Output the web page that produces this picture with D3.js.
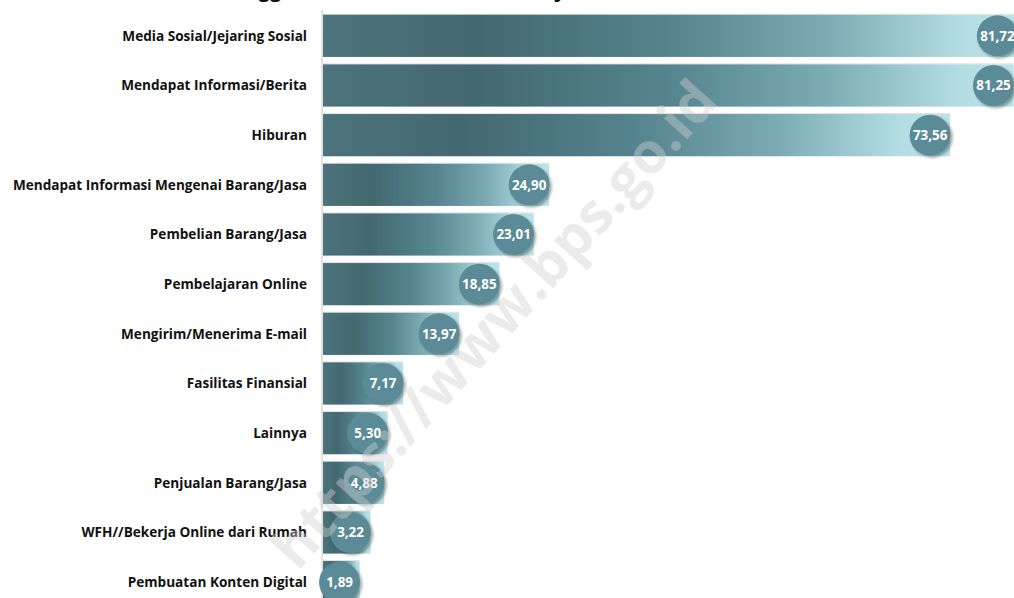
<!DOCTYPE html>
<html>
<head>
<meta charset="utf-8">
<script src="https://cdn.jsdelivr.net/npm/d3@7"></script>
<style>
  body { margin: 0; background: #fff; }
  svg { display: block; }
</style>
</head>
<body>
<div id="chart"></div>
<script>
const categories = [
  "Media Sosial/Jejaring Sosial",
  "Mendapat Informasi/Berita",
  "Hiburan",
  "Mendapat Informasi Mengenai Barang/Jasa",
  "Pembelian Barang/Jasa",
  "Pembelajaran Online",
  "Mengirim/Menerima E-mail",
  "Fasilitas Finansial",
  "Lainnya",
  "Penjualan Barang/Jasa",
  "WFH//Bekerja Online dari Rumah",
  "Pembuatan Konten Digital"
];
const values = [81.72, 81.25, 73.56, 24.90, 23.01, 18.85, 13.97, 7.17, 5.30, 4.88, 3.22, 1.89];
const titleText = "Persentase Penggunaan Internet Menurut Tujuan";
const watermarkText = "https://www.bps.go.id";

const w = 1014;
const h = 598;
const axisX = 322;

const svg = d3.select("#chart").append("svg")
  .attr("width", w)
  .attr("height", h);

const defs = svg.append("defs");

// gradient per bar (bounding box)
const grad = defs.append("linearGradient")
  .attr("id", "barGrad")
  .attr("x1", "0%").attr("x2", "100%")
  .attr("y1", "0%").attr("y2", "0%");
[
  [0, "#4c737b"],
  [0.22, "#43686f"],
  [0.5, "#55848e"],
  [0.72, "#7aaab2"],
  [0.92, "#b3dde2"],
  [1, "#bce4e8"]
].forEach(s => grad.append("stop").attr("offset", s[0]).attr("stop-color", s[1]));

const shadow = defs.append("filter")
  .attr("id", "shadow")
  .attr("x", "-30%").attr("y", "-30%")
  .attr("width", "170%").attr("height", "170%");
shadow.append("feDropShadow")
  .attr("dx", 2).attr("dy", 2)
  .attr("stdDeviation", 1.6)
  .attr("flood-color", "#000")
  .attr("flood-opacity", 0.35);

const barShadow = defs.append("filter")
  .attr("id", "barShadow")
  .attr("x", "-5%").attr("y", "-20%")
  .attr("width", "110%").attr("height", "140%");
barShadow.append("feDropShadow")
  .attr("dx", 0).attr("dy", -1)
  .attr("stdDeviation", 0.6)
  .attr("flood-color", "#000")
  .attr("flood-opacity", 0.12);

const x = d3.scaleLinear()
  .domain([0, 100])
  .range([344, 344 + 824]);

const y = d3.scaleBand()
  .domain(categories)
  .range([11, 607])
  .paddingInner(0.15)
  .paddingOuter(0.075);

// title (cut off at the top, as in the source)
svg.append("text")
  .attr("x", 105)
  .attr("y", -3)
  .attr("font-family", "Open Sans, sans-serif")
  .attr("font-weight", "bold")
  .attr("font-size", 20)
  .attr("fill", "#111")
  .text(titleText);

// axis line
svg.append("line")
  .attr("x1", axisX).attr("x2", axisX)
  .attr("y1", 10).attr("y2", h)
  .attr("stroke", "#d9d9d9")
  .attr("stroke-width", 1.5);

// category labels
svg.append("g")
  .selectAll("text")
  .data(categories)
  .join("text")
  .attr("x", 307)
  .attr("y", d => y(d) + y.bandwidth() / 2)
  .attr("dy", "0.35em")
  .attr("text-anchor", "end")
  .attr("font-family", "Open Sans, sans-serif")
  .attr("font-weight", "bold")
  .attr("font-size", 13.6)
  .attr("fill", "#111")
  .text(d => d);

// bars
svg.append("g")
  .selectAll("rect")
  .data(values)
  .join("rect")
  .attr("x", axisX + 1)
  .attr("y", (d, i) => y(categories[i]))
  .attr("width", d => x(d) - axisX - 1)
  .attr("height", y.bandwidth())
  .attr("fill", "url(#barGrad)")
  .attr("filter", "url(#barShadow)");

// value bubbles
const bubbles = svg.append("g")
  .selectAll("g")
  .data(values)
  .join("g")
  .attr("transform", (d, i) => `translate(${x(d) - 20}, ${y(categories[i]) + y.bandwidth() / 2})`);

bubbles.append("circle")
  .attr("r", 20.5)
  .attr("fill", "#5a8b96")
  .attr("filter", "url(#shadow)");

bubbles.append("text")
  .attr("dy", "0.36em")
  .attr("text-anchor", "middle")
  .attr("font-family", "Open Sans, sans-serif")
  .attr("font-weight", "bold")
  .attr("font-size", 13.4)
  .attr("fill", "#fff")
  .text(d => d3.format(".2f")(d).replace(".", ","));

// watermark
svg.append("text")
  .attr("transform", "translate(494, 324) rotate(-48)")
  .attr("text-anchor", "middle")
  .attr("dy", "0.35em")
  .attr("font-family", "Open Sans, sans-serif")
  .attr("font-weight", "bold")
  .attr("font-size", 57)
  .attr("fill", "#d0d0d0")
  .attr("fill-opacity", 0.42)
  .text(watermarkText);
</script>
</body>
</html>
